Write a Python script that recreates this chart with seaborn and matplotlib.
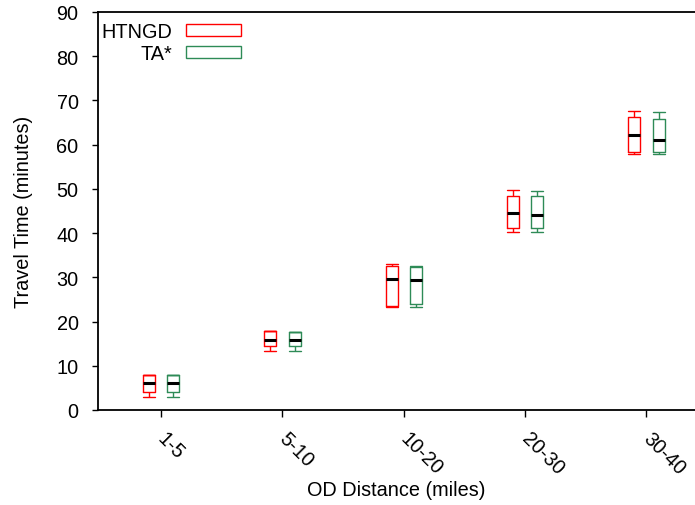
import numpy as np
import pandas as pd
import seaborn as sns
import matplotlib.pyplot as plt
import matplotlib.transforms as mtransforms
from matplotlib.patches import Patch

# five-number summaries: low whisker, q1, median, q3, high whisker
categories = ["1-5", "5-10", "10-20", "20-30", "30-40"]
methods = ["HTNGD", "TA*"]

htngd_low = [2.9, 13.4, 23.2, 40.2, 57.9]
htngd_q1 = [4.1, 14.5, 23.6, 41.2, 58.4]
htngd_med = [6.1, 15.9, 29.6, 44.6, 62.1]
htngd_q3 = [7.9, 17.8, 32.6, 48.3, 66.2]
htngd_high = [7.9, 17.8, 33.0, 49.8, 67.6]

ta_low = [2.9, 13.3, 23.2, 40.2, 57.9]
ta_q1 = [4.1, 14.5, 24.0, 41.1, 58.4]
ta_med = [6.1, 15.9, 29.4, 44.2, 61.0]
ta_q3 = [7.9, 17.7, 32.4, 48.3, 65.7]
ta_high = [7.9, 17.7, 32.6, 49.5, 67.3]

colors = ["#ff0000", "#2e8b57"]

rows = []
for m, stats in zip(methods, [(htngd_low, htngd_q1, htngd_med, htngd_q3, htngd_high),
                              (ta_low, ta_q1, ta_med, ta_q3, ta_high)]):
    for i, c in enumerate(categories):
        for s in stats:
            rows.append({"dist": c, "method": m, "time": s[i]})
df = pd.DataFrame(rows)

sns.set_style("ticks")
plt.rcParams["font.family"] = ["Liberation Sans", "DejaVu Sans"]
plt.rcParams["text.color"] = "black"
plt.rcParams["axes.labelcolor"] = "black"
plt.rcParams["xtick.color"] = "black"
plt.rcParams["ytick.color"] = "black"

fs = 14.3
box_w = 0.1

fig = plt.figure(figsize=(6.95, 5.06), dpi=100)
ax = fig.add_axes([98 / 695, 95 / 506, 1 - 98 / 695, 398 / 506])

sns.boxplot(data=df, x="dist", y="time", hue="method", order=categories,
            hue_order=methods, palette=colors, fill=False, whis=(0, 100),
            width=0.4, gap=0.5, linewidth=1, legend=False, ax=ax,
            medianprops={"color": "black", "linewidth": 2.2})

# gnuplot-like caps: as wide as the box
for ln in ax.lines:
    x, y = ln.get_data()
    x = np.asarray(x, dtype=float)
    y = np.asarray(y, dtype=float)
    if len(x) == 2 and y[0] == y[1] and (x[1] - x[0]) < box_w * 0.9:
        mid = x.mean()
        ln.set_data([mid - box_w / 2, mid + box_w / 2], y)

ax.set_xlim(-0.52, 4.40)
ax.set_ylim(0, 90)
ax.set_yticks(np.arange(0, 91, 10))
ax.set_xlabel("OD Distance (miles)", fontsize=fs)
ax.set_ylabel("Travel Time (minutes)", fontsize=fs)
ax.yaxis.set_label_coords(-0.109, 0.5)
ax.xaxis.set_label_coords(0.5, -0.175)
ax.tick_params(axis="y", labelsize=fs, direction="out", length=4, width=1, pad=10)
ax.tick_params(axis="x", labelsize=fs, direction="out", length=5, width=1, pad=8)
shift = mtransforms.ScaledTranslation(0.06, 0, fig.dpi_scale_trans)
for lbl in ax.get_xticklabels():
    lbl.set_rotation(-45)
    lbl.set_ha("left")
    lbl.set_va("top")
    lbl.set_rotation_mode("anchor")
    lbl.set_transform(lbl.get_transform() + shift)

for side in ["left", "bottom", "top"]:
    ax.spines[side].set_visible(True)
    ax.spines[side].set_linewidth(1.3)
    ax.spines[side].set_color("black")
ax.spines["right"].set_visible(False)

handles = [Patch(facecolor="none", edgecolor=c, linewidth=1) for c in colors]
ax.legend(handles, methods, loc="upper left", frameon=False, markerfirst=False,
          fontsize=fs, handlelength=2.8, handleheight=0.55, labelspacing=0.15,
          handletextpad=0.7, borderpad=0, borderaxespad=0,
          bbox_to_anchor=(0.005, 0.975))

fig.savefig("out.png", dpi=100)
